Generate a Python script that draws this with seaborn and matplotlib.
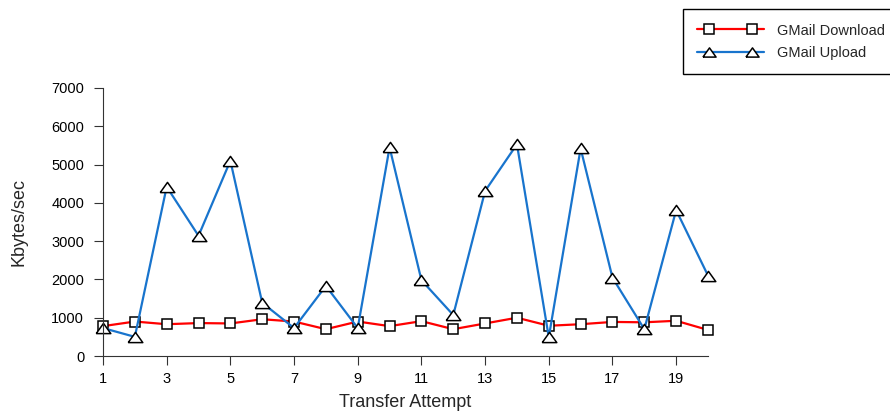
import matplotlib
matplotlib.use("Agg")
import numpy as np
import matplotlib.pyplot as plt
from matplotlib.lines import Line2D
from matplotlib.legend_handler import HandlerLine2DCompound
import seaborn as sns
import pandas as pd

# Throughput per transfer attempt (Kbytes/sec)
attempts = list(range(1, 21))
download = [780, 900, 830, 860, 850, 960, 900, 700, 900, 780,
            910, 700, 850, 1000, 790, 830, 890, 880, 920, 680]
upload = [730, 500, 4420, 3140, 5100, 1390, 730, 1830, 730, 5450,
          1980, 1070, 4310, 5530, 490, 5420, 2045, 700, 3810, 2100]
series_names = ["GMail Download", "GMail Upload"]
x_ticks = [1, 3, 5, 7, 9, 11, 13, 15, 17, 19]
y_ticks = [0, 1000, 2000, 3000, 4000, 5000, 6000, 7000]

df = pd.DataFrame({
    "attempt": attempts * 2,
    "rate": download + upload,
    "series": [series_names[0]] * len(attempts) + [series_names[1]] * len(attempts),
})

sns.set_style("ticks")
plt.rcParams["font.family"] = ["Liberation Sans", "DejaVu Sans"]

fig = plt.figure(figsize=(8.9, 4.19), dpi=100)
ax = fig.add_axes([103 / 890, 63 / 419, 605 / 890, 268 / 419])

# flattened triangle marker
tri = [(-1.0, -0.7), (1.0, -0.7), (0.0, 0.7), (-1.0, -0.7)]
styles = {
    series_names[0]: dict(color="#ff0000", marker="s", markersize=7.2),
    series_names[1]: dict(color="#1874cd", marker=tri, markersize=10.5),
}

for name in series_names:
    st = styles[name]
    sns.lineplot(
        data=df[df["series"] == name], x="attempt", y="rate", ax=ax,
        color=st["color"], marker=st["marker"], markersize=st["markersize"],
        markerfacecolor="white", markeredgecolor="black", markeredgewidth=1.1,
        linewidth=1.6, label=name, legend=False, clip_on=False,
    )

ax.set_xlim(1, 20)
ax.set_ylim(0, 7000)
ax.set_xticks(x_ticks)
ax.set_yticks(y_ticks)
ax.tick_params(axis="both", direction="out", length=6.5, width=0.8,
               colors="#333333", labelcolor="black", labelsize=10.5)
ax.tick_params(axis="y", pad=7)
ax.tick_params(axis="x", pad=5)
for side in ("top", "right"):
    ax.spines[side].set_visible(False)
for side in ("left", "bottom"):
    ax.spines[side].set_color("#333333")
    ax.spines[side].set_linewidth(0.8)

ax.set_xlabel("Transfer Attempt", fontsize=13, labelpad=6)
ax.set_ylabel("Kbytes/sec", fontsize=13, labelpad=17)


class FullLineHandler(HandlerLine2DCompound):
    """Line spans the whole handle; the two markers sit inset from its ends."""

    def get_xdata(self, legend, xdescent, ydescent, width, height, fontsize):
        pad = self._marker_pad * fontsize
        line_x = np.array([-xdescent, -xdescent + width])
        marker_x = np.linspace(-xdescent + pad, -xdescent + width - pad, 2)
        return line_x, marker_x


handles = [
    Line2D([], [], color=styles[n]["color"], marker=styles[n]["marker"],
           markersize=styles[n]["markersize"] * (0.9 if n == series_names[1] else 1.0),
           markerfacecolor="white", markeredgecolor="black",
           markeredgewidth=1.1, linewidth=1.6)
    for n in series_names
]
leg = fig.legend(
    handles, series_names, loc="upper left",
    bbox_to_anchor=(683.0 / 890, 1 - 9.3 / 419), bbox_transform=fig.transFigure,
    borderaxespad=0, fontsize=10.5, numpoints=2, handlelength=4.6,
    handletextpad=0.85, labelspacing=0.55, borderpad=0.98,
    fancybox=False, framealpha=1, edgecolor="black",
    handler_map={Line2D: FullLineHandler(marker_pad=0.82)},
)
leg.get_frame().set_linewidth(1.0)

fig.savefig("out.png", dpi=100)
